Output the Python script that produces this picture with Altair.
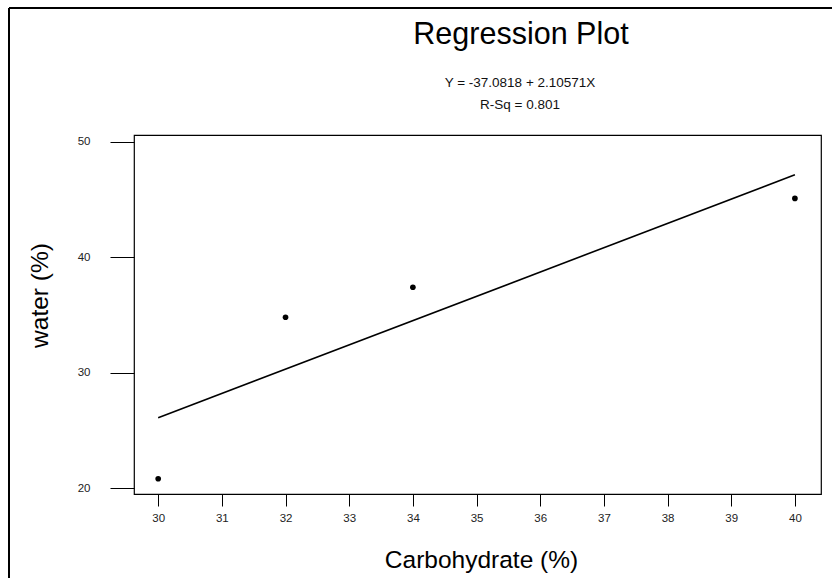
import altair as alt
import pandas as pd

# Data
carbohydrate = [30, 32, 34, 40]
water = [20.8, 34.8, 37.4, 45.1]
intercept = -37.0818
slope = 2.10571
r_sq = 0.801
line_x = [30, 40]
x_ticks = [30, 31, 32, 33, 34, 35, 36, 37, 38, 39, 40]
y_ticks = [20, 30, 40, 50]

pts = pd.DataFrame({"x": carbohydrate, "y": water})
fit = pd.DataFrame({"x": line_x, "y": [intercept + slope * v for v in line_x]})

FONT = "Liberation Sans"

xscale = alt.Scale(domain=[29.62, 40.41], nice=False, zero=False)
yscale = alt.Scale(domain=[19.48, 50.6], nice=False, zero=False)

xaxis = alt.Axis(values=x_ticks, format="d", title="Carbohydrate (%)", grid=False, domain=False,
                 tickSize=12, tickColor="#000", labelPadding=6, labelFontSize=11.5,
                 labelColor="#222", labelFont=FONT, titleFont=FONT, titleFontSize=24.5,
                 titleFontWeight="normal", titleColor="#000",
                 titleX=347, titleY=66, titleAlign="center", titleBaseline="middle")
yaxis = alt.Axis(values=y_ticks, format="d", title="water (%)", grid=False, domain=False,
                 tickSize=24, tickColor="#000", labelPadding=20, labelFontSize=11.5,
                 labelColor="#222", labelFont=FONT, titleFont=FONT, titleFontSize=24.5,
                 titleFontWeight="normal", titleColor="#000",
                 titleX=-94, titleY=160, titleAngle=-90, titleAlign="center",
                 titleBaseline="middle")

points = alt.Chart(pts).mark_circle(color="black", size=32, opacity=1).encode(
    x=alt.X("x:Q", scale=xscale, axis=xaxis),
    y=alt.Y("y:Q", scale=yscale, axis=yaxis),
)
line = alt.Chart(fit).mark_line(color="black", strokeWidth=1.6).encode(
    x=alt.X("x:Q", scale=xscale), y=alt.Y("y:Q", scale=yscale)
)

title_df = pd.DataFrame({"t": ["Regression Plot"]})
title = alt.Chart(title_df).mark_text(font=FONT, fontSize=30.5, color="#000",
                                      align="center", baseline="middle").encode(
    text="t:N", x=alt.value(387), y=alt.value(-100))
eq_df = pd.DataFrame({"t": [f"Y = {intercept} + {slope}X"]})
eq = alt.Chart(eq_df).mark_text(font=FONT, fontSize=13.5, color="#111",
                                align="center", baseline="middle").encode(
    text="t:N", x=alt.value(386), y=alt.value(-52))
rsq_df = pd.DataFrame({"t": [f"R-Sq = {r_sq}"]})
rsq = alt.Chart(rsq_df).mark_text(font=FONT, fontSize=13.5, color="#111",
                                  align="center", baseline="middle").encode(
    text="t:N", x=alt.value(386), y=alt.value(-30))

frame_top = alt.Chart(title_df).mark_rule(color="black", strokeWidth=2).encode(
    x=alt.value(-125), x2=alt.value(700), y=alt.value(-127))
frame_left = alt.Chart(title_df).mark_rule(color="black", strokeWidth=2).encode(
    x=alt.value(-125), y=alt.value(-127), y2=alt.value(450))

chart = alt.layer(line, points, title, eq, rsq, frame_top, frame_left).properties(
    width=687, height=359,
    autosize=alt.AutoSizeParams(type="none"),
    padding={"left": 134, "top": 135, "right": 11, "bottom": 84},
    background="white",
).configure_view(stroke="black", strokeWidth=1.2)

chart.save("out.html", embed_options={"renderer": "svg", "actions": False})
